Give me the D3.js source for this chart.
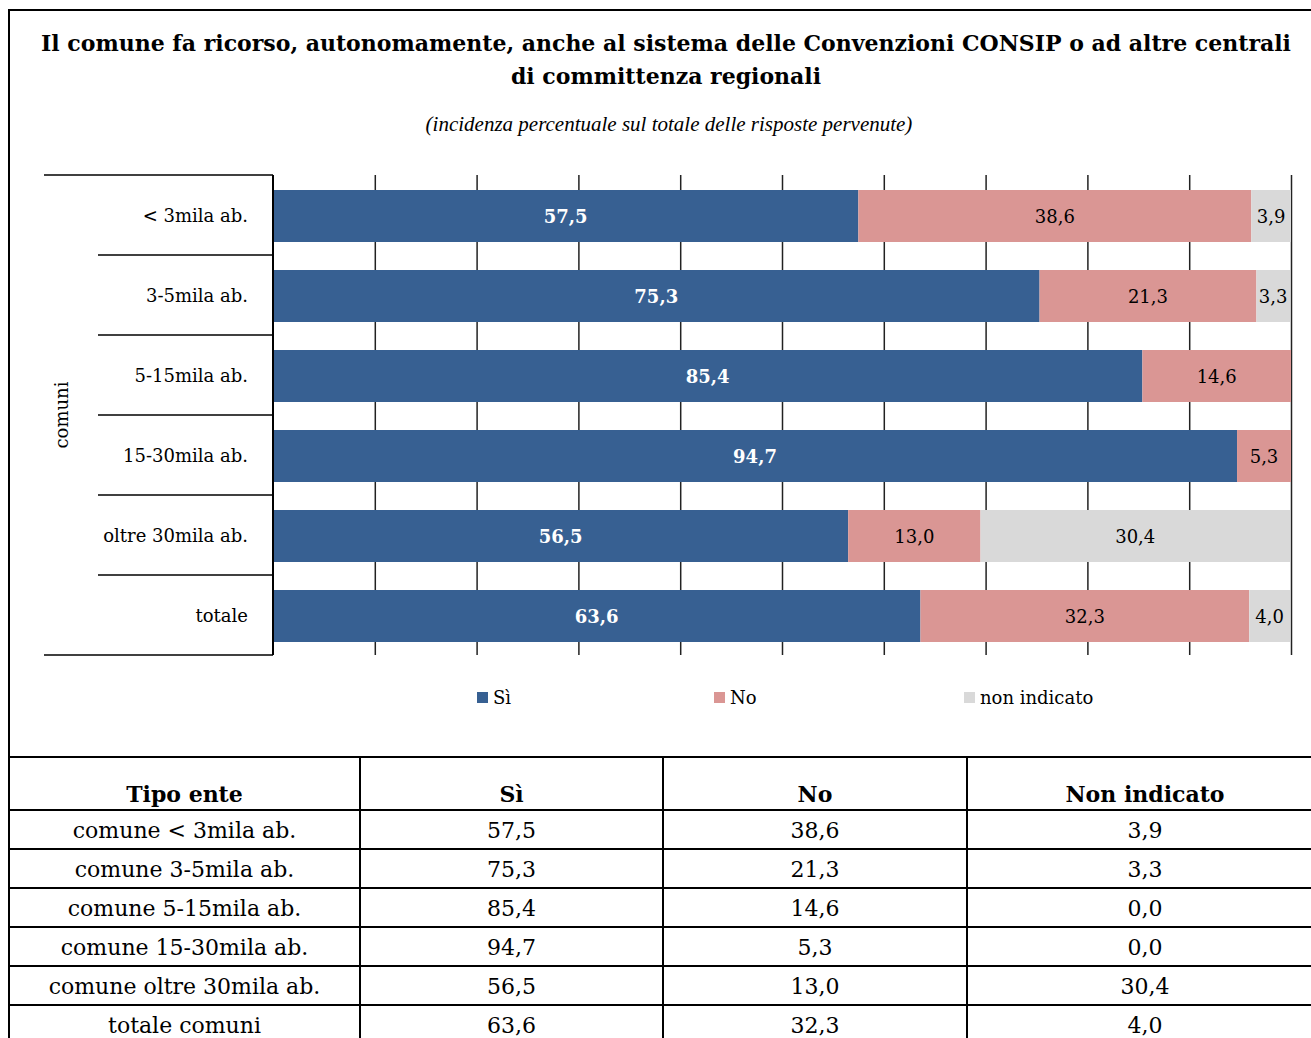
<!DOCTYPE html>
<html>
<head>
<meta charset="utf-8">
<script src="https://cdn.jsdelivr.net/npm/d3@7"></script>
<style>
  body { margin: 0; background: #fff; }
  svg { display: block; }
  text { font-family: "DejaVu Serif", "Liberation Serif", serif; }
</style>
</head>
<body>
<script>
// chart data
const categories = ["< 3mila ab.", "3-5mila ab.", "5-15mila ab.", "15-30mila ab.", "oltre 30mila ab.", "totale"];
const siValues = [57.5, 75.3, 85.4, 94.7, 56.5, 63.6];
const noValues = [38.6, 21.3, 14.6, 5.3, 13.0, 32.3];
const nonIndValues = [3.9, 3.3, 0.0, 0.0, 30.4, 4.0];
const seriesNames = ["Sì", "No", "non indicato"];
const seriesColors = ["#376092", "#da9694", "#d9d9d9"];
const xTicks = [10, 20, 30, 40, 50, 60, 70, 80, 90, 100];

// table data
const tableHeader = ["Tipo ente", "Sì", "No", "Non indicato"];
const tableRowLabels = ["comune < 3mila ab.", "comune 3-5mila ab.", "comune 5-15mila ab.",
  "comune 15-30mila ab.", "comune oltre 30mila ab.", "totale comuni"];

const width = 1311, height = 1038;

const svg = d3.select("body").append("svg")
  .attr("width", width)
  .attr("height", height);

// outer frame
svg.append("rect")
  .attr("x", 9).attr("y", 10)
  .attr("width", 1340).attr("height", 1100)
  .attr("fill", "none").attr("stroke", "#000").attr("stroke-width", 2);

// titles
svg.append("text")
  .attr("x", 666).attr("y", 51)
  .attr("text-anchor", "middle")
  .attr("font-size", 22).attr("font-weight", "bold")
  .text("Il comune fa ricorso, autonomamente, anche al sistema delle Convenzioni CONSIP o ad altre centrali");
svg.append("text")
  .attr("x", 666).attr("y", 84)
  .attr("text-anchor", "middle")
  .attr("font-size", 22).attr("font-weight", "bold")
  .text("di committenza regionali");
svg.append("text")
  .attr("x", 669).attr("y", 131)
  .attr("text-anchor", "middle")
  .style("font-family", "'Liberation Serif', serif")
  .attr("font-size", 21).attr("font-style", "italic")
  .text("(incidenza percentuale sul totale delle risposte pervenute)");

// scales
const x = d3.scaleLinear().domain([0, 100]).range([273, 1291]);
const y = d3.scaleBand().domain(categories).range([176, 656])
  .paddingInner(0.35).paddingOuter(0.175);
const color = d3.scaleOrdinal().domain(seriesNames).range(seriesColors);

// vertical gridlines
const grid = svg.append("g")
  .attr("transform", "translate(0,175)")
  .call(d3.axisBottom(x).tickValues(xTicks).tickSize(480).tickFormat(""));
grid.select(".domain").remove();
grid.selectAll("line").attr("stroke", "#222").attr("stroke-width", 1.5);

// stacked bars
const rows = categories.map((c, i) => ({cat: c, "Sì": siValues[i], "No": noValues[i], "non indicato": nonIndValues[i]}));
const stacked = d3.stack().keys(seriesNames)(rows);

const fmt = d3.formatLocale({decimal: ",", thousands: ".", grouping: [3], currency: ["", "€"]}).format(".1f");

const layers = svg.append("g").selectAll("g")
  .data(stacked)
  .join("g")
  .attr("fill", d => color(d.key));

layers.selectAll("rect")
  .data(d => d)
  .join("rect")
  .attr("x", d => x(d[0]))
  .attr("y", d => y(d.data.cat))
  .attr("width", d => x(d[1]) - x(d[0]))
  .attr("height", y.bandwidth());

layers.selectAll("text")
  .data(d => d.map(v => Object.assign(v, {key: d.key})).filter(v => v[1] - v[0] > 0))
  .join("text")
  .attr("x", d => (x(d[0]) + x(d[1])) / 2)
  .attr("y", d => y(d.data.cat) + y.bandwidth() / 2 + 7)
  .attr("text-anchor", "middle")
  .attr("font-size", 18)
  .attr("font-weight", d => d.key === "Sì" ? "bold" : "normal")
  .attr("fill", d => d.key === "Sì" ? "#fff" : "#000")
  .text(d => fmt(d[1] - d[0]));

// left axis line and category separators
svg.append("line")
  .attr("x1", 273).attr("x2", 273).attr("y1", 175).attr("y2", 655)
  .attr("stroke", "#000").attr("stroke-width", 2);

const bounds = d3.range(categories.length + 1).map(i => 175 + i * y.step());
svg.append("g").selectAll("line")
  .data(bounds)
  .join("line")
  .attr("x1", (d, i) => (i === 0 || i === categories.length) ? 44 : 98)
  .attr("x2", 273)
  .attr("y1", d => d).attr("y2", d => d)
  .attr("stroke", "#000").attr("stroke-width", 1.5);

svg.append("g").selectAll("text")
  .data(categories)
  .join("text")
  .attr("x", 248)
  .attr("y", d => y(d) + y.bandwidth() / 2 + 6)
  .attr("text-anchor", "end")
  .attr("font-size", 18)
  .text(d => d);

svg.append("text")
  .attr("transform", "translate(68,415) rotate(-90)")
  .attr("text-anchor", "middle")
  .attr("font-size", 18)
  .text("comuni");

// legend
const legendX = [477, 714, 964];
const legend = svg.append("g").selectAll("g")
  .data(seriesNames)
  .join("g")
  .attr("transform", (d, i) => `translate(${legendX[i]},692)`);
legend.append("rect")
  .attr("width", 11).attr("height", 11)
  .attr("fill", d => color(d));
legend.append("text")
  .attr("x", 16).attr("y", 12)
  .attr("font-size", 18)
  .text(d => d);

// table
const colX = [9, 360, 663, 967, 1323];
const rowY = [757, 810, 849, 888, 927, 966, 1005, 1044];
const tbl = svg.append("g");
tbl.selectAll("line.h")
  .data(rowY)
  .join("line")
  .attr("class", "h")
  .attr("x1", 9).attr("x2", 1340)
  .attr("y1", d => d).attr("y2", d => d)
  .attr("stroke", "#000").attr("stroke-width", 2);
tbl.selectAll("line.v")
  .data(colX)
  .join("line")
  .attr("class", "v")
  .attr("x1", d => d).attr("x2", d => d)
  .attr("y1", 757).attr("y2", 1044)
  .attr("stroke", "#000").attr("stroke-width", 2);

const colCenter = d3.range(4).map(i => (colX[i] + colX[i + 1]) / 2);
tbl.selectAll("text.head")
  .data(tableHeader)
  .join("text")
  .attr("class", "head")
  .attr("x", (d, i) => colCenter[i])
  .attr("y", 802)
  .attr("text-anchor", "middle")
  .attr("font-size", 22).attr("font-weight", "bold")
  .text(d => d);

const tableRows = tableRowLabels.map((lab, i) => [lab, fmt(siValues[i]), fmt(noValues[i]), fmt(nonIndValues[i])]);
tbl.selectAll("g.row")
  .data(tableRows)
  .join("g")
  .attr("class", "row")
  .attr("transform", (d, i) => `translate(0,${rowY[i + 1] + 28})`)
  .selectAll("text")
  .data(d => d)
  .join("text")
  .attr("x", (d, i) => colCenter[i])
  .attr("text-anchor", "middle")
  .attr("font-size", 22)
  .text(d => d);
</script>
</body>
</html>
